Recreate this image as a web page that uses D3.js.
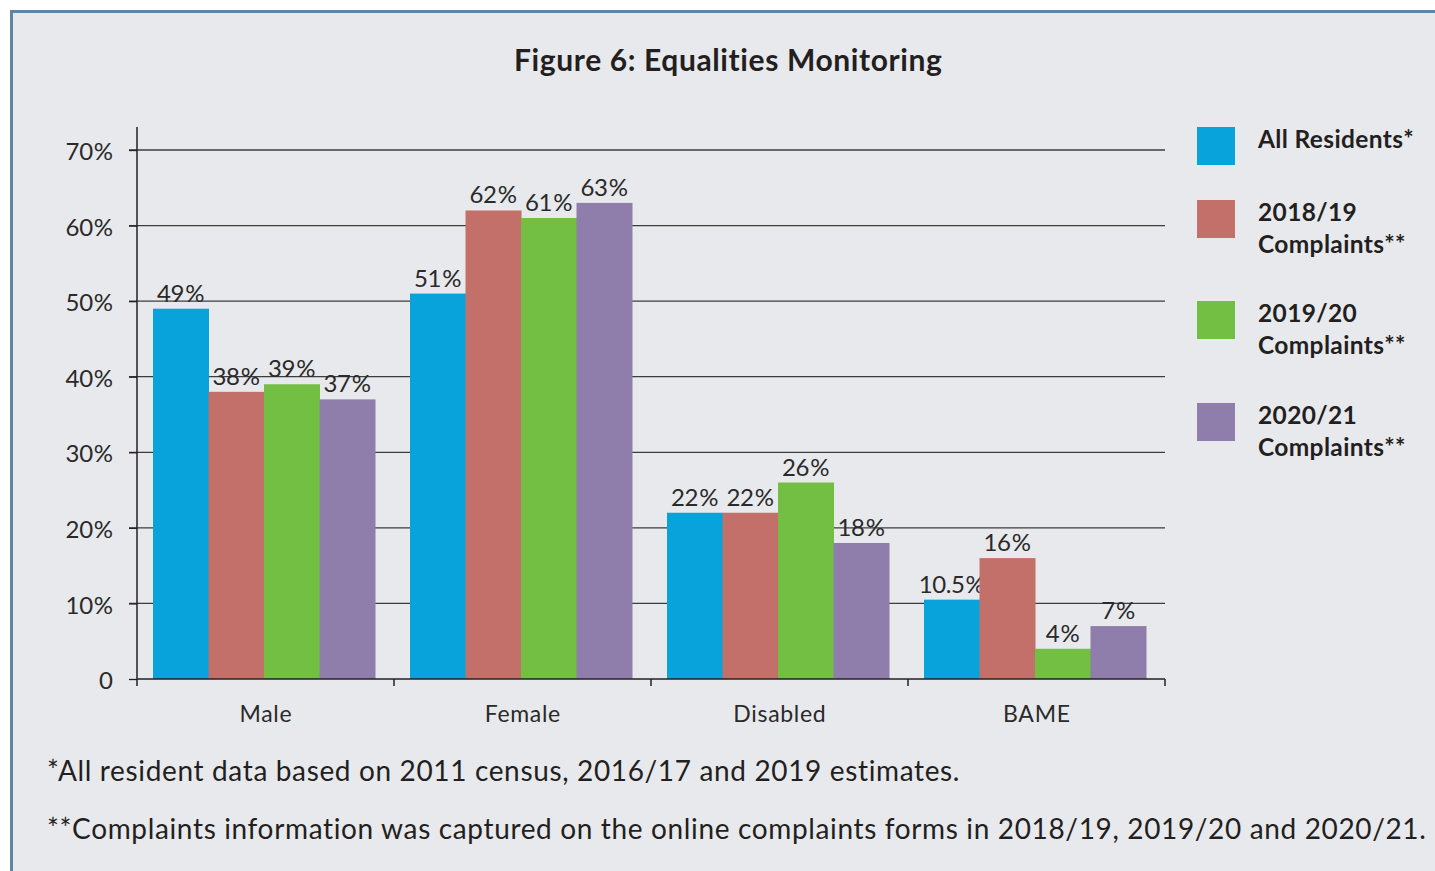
<!DOCTYPE html>
<html><head><meta charset="utf-8">
<script src="https://cdn.jsdelivr.net/npm/d3@7"></script>
<style>
html,body{margin:0;padding:0;background:#fff;}
svg{display:block;}
text{font-family:Lato, "Open Sans", sans-serif;}
</style></head>
<body>
<svg id="c" width="1435" height="871"></svg>
<script>
const categories = ["Male","Female","Disabled","BAME"];
const seriesNames = ["All Residents*","2018/19 Complaints**","2019/20 Complaints**","2020/21 Complaints**"];
const legendLines = [["All Residents*"],["2018/19","Complaints**"],["2019/20","Complaints**"],["2020/21","Complaints**"]];
const allResidents = [49, 51, 22, 10.5];
const complaints1819 = [38, 62, 22, 16];
const complaints1920 = [39, 61, 26, 4];
const complaints2021 = [37, 63, 18, 7];
const colors = ["#09a3dc","#c4706a","#72bf44","#8f7dab"];
const yTicks = [0,10,20,30,40,50,60,70];
const title = "Figure 6: Equalities Monitoring";
const footnotes = ["*All resident data based on 2011 census, 2016/17 and 2019 estimates.",
  "**Complaints information was captured on the online complaints forms in 2018/19, 2019/20 and 2020/21."];

const series = [allResidents, complaints1819, complaints1920, complaints2021];
const svg = d3.select("#c");
const INK = "#231f20";
const PCT = "\u200A%";

// letter-spacing needed so a sample string reaches a target width
function spacingFor(sample, size, weight, target){
  const tmp = svg.append("text").attr("font-size",size).attr("font-weight",weight).text(sample);
  const w = tmp.node().getComputedTextLength();
  tmp.remove();
  return (target - w) / sample.length;
}
const lsTitle = spacingFor(title, 30, 700, 429);
const lsLegend = spacingFor("All Residents*", 24.5, 700, 156);
const lsFoot = spacingFor(footnotes[1], 28, 400, 1380);
const lsCat = spacingFor("Disabled", 23, 400, 93);
const lsVal = spacingFor("70"+PCT, 24, 400, 47);

// panel
svg.append("rect").attr("x",12).attr("y",12).attr("width",1435).attr("height",871).attr("fill","#e8e9ed");
svg.append("path").attr("d","M11.5,871 V11.5 H1435").attr("fill","none").attr("stroke","#5f86a0").attr("stroke-width",3);

svg.append("text").attr("x",728+lsTitle/2).attr("y",71).attr("text-anchor","middle")
  .attr("font-size",30).attr("font-weight",700).attr("letter-spacing",lsTitle).attr("fill",INK).text(title);

const x0 = d3.scaleBand().domain(categories).range([137,1165]).paddingInner(0).paddingOuter(0);
const x1 = d3.scaleBand().domain(d3.range(4)).range([16, x0.bandwidth()-19]).padding(0);
const y = d3.scaleLinear().domain([0,70]).range([679,150]);

// grid
svg.append("g").selectAll("line").data(yTicks.filter(d=>d>0)).join("line")
  .attr("x1",129).attr("x2",1165).attr("y1",d=>y(d)).attr("y2",d=>y(d))
  .attr("stroke","#3d3d3d").attr("stroke-width",1.3);

// bars
const bg = svg.append("g");
categories.forEach((c,ci)=>{
  series.forEach((s,si)=>{
    const bx = x0(c)+x1(si), bw = x1.bandwidth();
    bg.append("rect").attr("x",bx).attr("y",y(s[ci])).attr("width",bw+0.5).attr("height",y(0)-y(s[ci])).attr("fill",colors[si]);
    bg.append("text").attr("x",bx+bw/2+lsVal/2).attr("y",y(s[ci])-7).attr("text-anchor","middle")
      .attr("font-size",24).attr("letter-spacing",lsVal).attr("fill","#2a2a2a").text(s[ci]+PCT);
  });
});

// axes
const yAxis = d3.axisLeft(y).tickValues(yTicks).tickSize(8).tickPadding(16)
  .tickFormat(d=> d===0 ? "0" : d+PCT);
const ya = svg.append("g").attr("transform","translate(137,0)").call(yAxis);
ya.select(".domain").attr("d","M0,127V686").attr("stroke",INK).attr("stroke-width",1.5);
ya.selectAll(".tick line").attr("stroke",INK).attr("stroke-width",1.3);
ya.selectAll(".tick text").attr("font-size",24).attr("letter-spacing",lsVal).attr("dy","0.4em")
  .attr("dx",lsVal).attr("fill","#2a2a2a").attr("font-family","Lato");

const xAxis = d3.axisBottom(x0).tickSize(0).tickPadding(27);
const xa = svg.append("g").attr("transform","translate(0,679)").call(xAxis);
xa.select(".domain").attr("d","M137,0H1165").attr("stroke",INK).attr("stroke-width",1.5);
xa.selectAll(".tick text").attr("font-size",23).attr("letter-spacing",lsCat).attr("dx",lsCat/2)
  .attr("fill","#2a2a2a").attr("font-family","Lato");
xa.selectAll("line.sep").data(categories.map(c=>x0(c)).concat([x0.range()[1]]).slice(1)).join("line")
  .attr("class","sep").attr("x1",d=>d).attr("x2",d=>d).attr("y1",0).attr("y2",7)
  .attr("stroke",INK).attr("stroke-width",1.5);

// legend
const legendY = [127,200,301,403];
legendLines.forEach((lines,i)=>{
  svg.append("rect").attr("x",1197).attr("y",legendY[i]).attr("width",38).attr("height",38).attr("fill",colors[i]);
  lines.forEach((tx,j)=>{
    svg.append("text").attr("x",1258).attr("y",legendY[i]+21+j*32).attr("font-size",24.5).attr("font-weight",700)
      .attr("letter-spacing",lsLegend).attr("fill",INK).text(tx);
  });
});

// footnotes
svg.selectAll("text.fn").data(footnotes).join("text").attr("class","fn")
  .attr("x",47).attr("y",(d,i)=>781+i*58).attr("font-size",28).attr("letter-spacing",lsFoot)
  .attr("fill",INK).text(d=>d);
</script>
</body></html>
